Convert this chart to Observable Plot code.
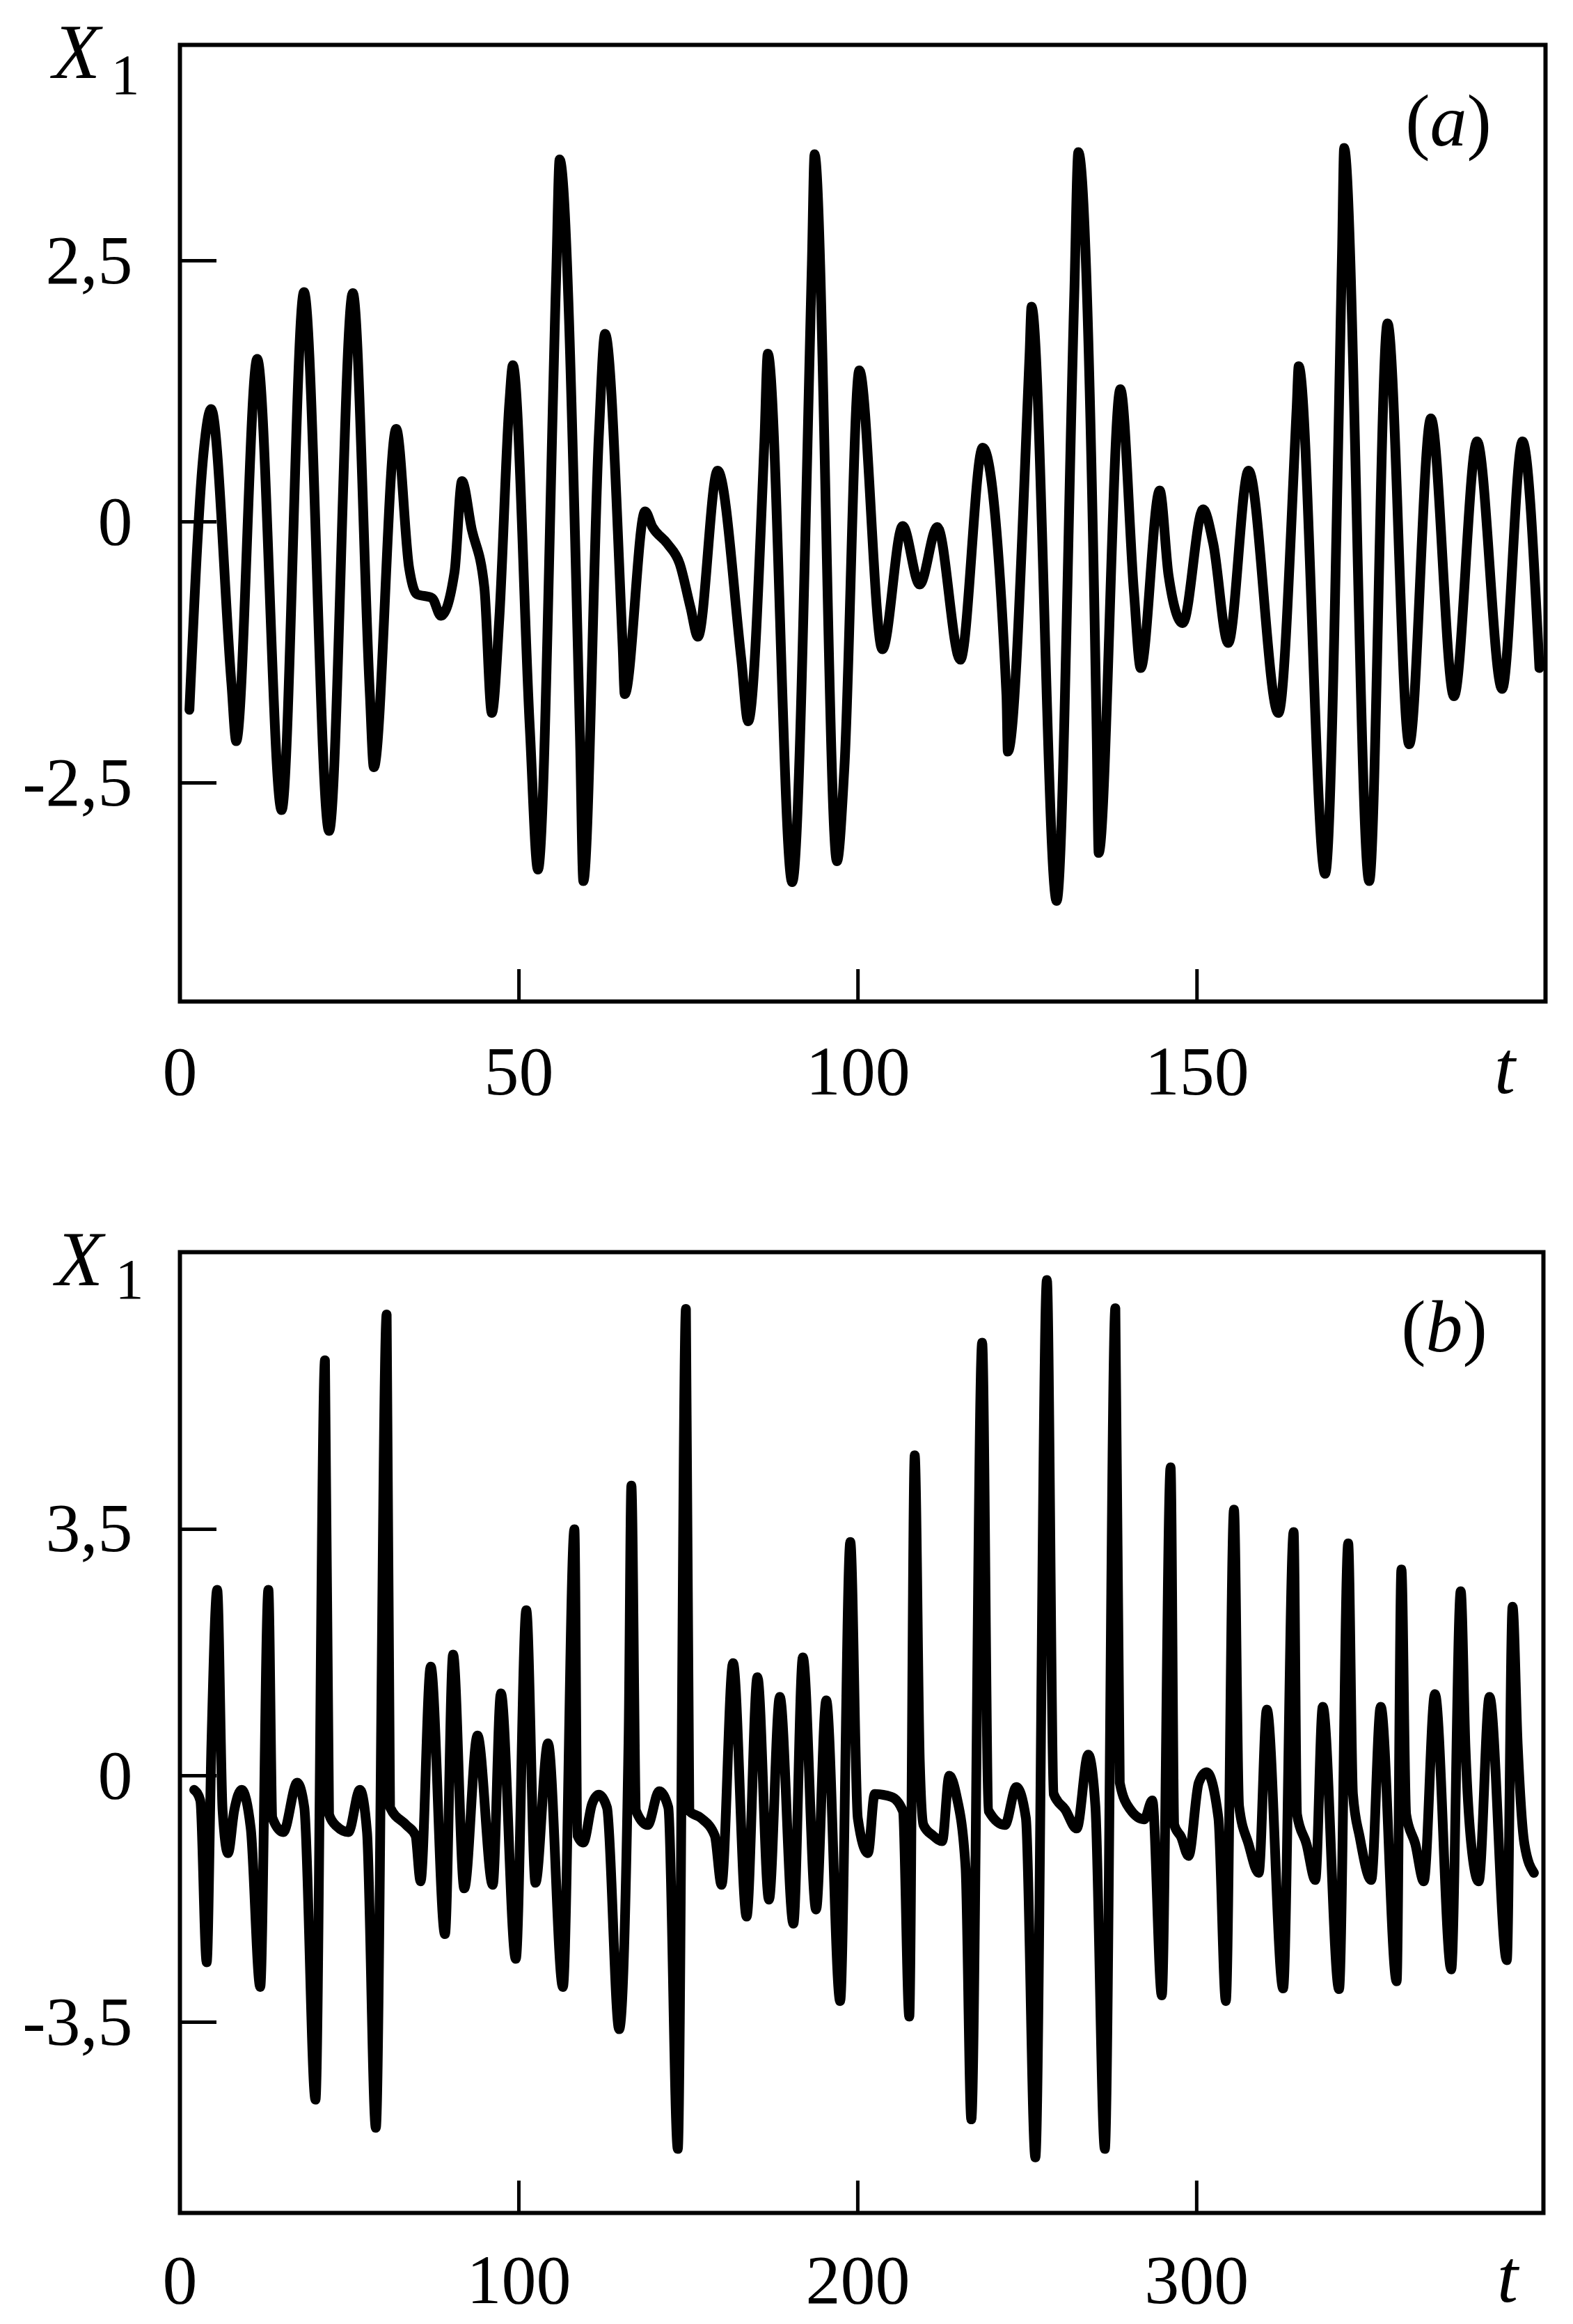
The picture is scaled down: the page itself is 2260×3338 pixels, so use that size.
<!DOCTYPE html>
<html>
<head>
<meta charset="utf-8">
<script src="https://cdn.jsdelivr.net/npm/d3@7"></script>
<script src="https://cdn.jsdelivr.net/npm/@observablehq/plot@0.6"></script>
<style>
  html, body { margin: 0; padding: 0; background: #fff; }
  #chart svg { display: block; }
</style>
</head>
<body>
<div id="chart"></div>
<script>
// ---- Panel (a) data: time t and X1 values ----
const timesA = [1.4,3.5,4.6,7.6,8.3,11.4,15.0,18.3,22.0,25.5,28.0,28.6,31.9,33.8,34.9,37.2,38.5,40.5,41.6,43.0,44.9,46.0,47.1,48.6,49.1,51.6,52.8,55.5,56.0,59.0,59.5,61.8,62.7,65.3,65.6,68.6,69.7,71.9,73.7,75.3,76.4,79.3,82.8,83.8,86.2,86.7,90.3,93.2,93.6,96.9,98.0,100.2,103.6,106.6,109.1,111.7,115.1,118.4,121.9,122.1,125.3,125.6,129.3,131.9,132.5,135.2,135.5,138.7,140.7,141.7,144.5,145.8,147.9,150.9,152.4,154.6,157.6,162.0,164.7,165.0,168.9,171.4,171.7,175.4,178.1,181.3,184.5,187.9,191.3,195.0,198.0,200.5];
const valuesA = [-1.8,0.67,1.08,-1.55,-2.1,1.56,-2.76,2.2,-2.96,2.19,-1.63,-2.35,0.89,-0.44,-0.69,-0.73,-0.9,-0.48,0.39,-0.06,-0.63,-1.83,-0.93,1.15,1.5,-1.97,-3.33,2.37,3.47,-2.05,-3.44,0.85,1.8,-1.2,-1.65,0.1,-0.05,-0.21,-0.4,-0.82,-1.1,0.49,-1.32,-1.91,0.77,1.61,-3.45,2.47,3.52,-3.25,-2.35,1.45,-1.22,-0.04,-0.6,-0.05,-1.32,0.71,-1.66,-2.2,1.59,2.06,-3.63,2.17,3.54,-2.0,-3.17,1.27,-0.67,-1.4,0.3,-0.51,-0.97,0.12,-0.21,-1.16,0.49,-1.83,1.09,1.49,-3.37,2.61,3.58,-3.44,1.9,-2.13,0.99,-1.67,0.77,-1.6,0.77,-1.4];

// ---- Panel (b) data ----
const timesB = [4.2,6.0,7.9,9.3,11.0,12.6,14.2,16.0,18.2,20.9,23.7,26.1,27.3,30.5,34.6,36.7,40.0,42.8,44.0,46.3,49.7,53.1,55.2,57.8,61.0,62.0,66.8,69.5,71.0,74.0,78.2,80.6,83.9,87.8,92.3,94.7,99.1,102.2,104.9,108.6,113.0,116.4,117.3,119.0,121.6,123.6,126.0,129.6,132.4,133.2,134.6,138.0,141.4,144.1,146.9,149.3,150.3,153.7,157.8,159.8,163.2,167.2,170.4,173.8,177.0,181.0,183.8,187.7,190.7,194.8,197.8,200.0,203.0,205.0,209.9,213.3,215.2,216.8,218.3,219.4,222.2,224.9,227.0,229.0,231.8,233.5,236.7,238.6,243.4,246.8,249.6,252.4,255.8,257.8,261.2,264.6,268.0,270.1,272.9,276.0,277.3,280.4,284.5,286.9,289.7,292.3,293.4,295.4,297.6,300.6,302.9,306.4,308.6,311.0,312.5,315.3,318.3,320.7,325.5,328.6,329.6,332.4,335.0,337.2,342.0,344.7,346.1,348.1,351.5,354.3,359.0,360.4,361.8,364.5,367.0,370.3,375.1,377.9,379.3,381.0,383.2,386.4,391.5,393.2,394.7,396.7,399.5];
const valuesB = [-0.2,-0.35,-2.65,0.45,2.64,-0.5,-1.1,-0.5,-0.2,-0.75,-3.0,2.64,-0.6,-0.8,-0.1,-0.45,-4.6,5.9,-0.55,-0.72,-0.8,-0.2,-0.8,-5.0,6.55,-0.45,-0.7,-0.85,-1.5,1.55,-2.25,1.72,-1.6,0.57,-1.55,1.17,-2.6,2.35,-1.52,0.46,-3.0,3.5,-0.85,-0.95,-0.4,-0.27,-0.45,-3.6,0.6,4.12,-0.5,-0.7,-0.22,-0.45,-5.3,6.63,-0.5,-0.6,-0.85,-1.55,1.6,-2.0,1.4,-1.76,1.12,-2.1,1.68,-1.9,1.07,-3.2,3.32,-0.6,-1.1,-0.26,-0.3,-0.5,-3.42,4.55,0.2,-0.7,-0.85,-0.93,0.0,-0.26,-1.3,-4.88,6.15,-0.5,-0.7,-0.16,-0.6,-5.42,7.04,-0.26,-0.48,-0.75,0.3,-0.43,-5.3,6.64,-0.1,-0.48,-0.62,-0.35,-3.12,4.38,-0.7,-0.87,-1.14,-0.1,0.05,-0.6,-3.2,3.78,-0.43,-0.97,-1.38,0.94,-3.02,3.46,-0.55,-0.97,-1.48,0.98,-3.03,3.3,-0.26,-0.87,-1.48,0.98,-2.92,2.93,-0.55,-0.97,-1.5,1.16,-2.75,2.62,0.4,-0.97,-1.5,1.12,-2.62,2.4,0.45,-0.97,-1.38];

// ---- Axis ticks ----
const xTicksA = [0, 50, 100, 150];
const yTicksA = [-2.5, 0, 2.5];
const xTicksB = [0, 100, 200, 300];
const yTicksB = [-3.5, 0, 3.5];

const FONT = "'Liberation Serif', 'Times New Roman', serif";
const comma = d => String(d).replace(".", ",");

function panel(o) {
  const data = o.times.map((t, i) => ({t, v: o.values[i]}));
  const fw = o.W - o.ml - o.mr, fh = o.H - o.mt - o.mb;
  return Plot.plot({
    width: o.W, height: o.H,
    marginTop: o.mt, marginBottom: o.mb, marginLeft: o.ml, marginRight: o.mr,
    style: {fontFamily: FONT, fontSize: "100px", background: "white", color: "black", overflow: "visible"},
    x: {domain: o.xDomain, ticks: o.xTicks, tickSize: 0, tickPadding: o.xPad, tickFormat: comma, label: null},
    y: {domain: o.yDomain, ticks: o.yTicks, tickSize: 0, tickPadding: 68, tickFormat: comma, label: null},
    marks: [
      Plot.line(data, {x: "t", y: "v", curve: "monotone-x", stroke: "black", strokeWidth: o.lw, strokeLinejoin: "round", strokeLinecap: "round"}),
      Plot.frame({stroke: "black", strokeWidth: 6}),
      Plot.tickX(o.xTicks.filter(d => d !== 0), {x: d => d, stroke: "black", strokeWidth: 5, insetTop: fh - 46}),
      Plot.tickY(o.yTicks, {y: d => d, stroke: "black", strokeWidth: 5, insetRight: fw - 53})
    ]
  });
}

function annotate(svg, a) {
  const s = d3.select(svg);
  const g = s.append("g").attr("font-family", FONT).attr("fill", "black");
  g.append("text").attr("x", a.Xx).attr("y", a.Xy).attr("font-size", 112).attr("font-style", "italic").text("X");
  g.append("text").attr("x", a.sx).attr("y", a.sy).attr("font-size", 82).text("1");
  const p = g.append("text").attr("x", a.px).attr("y", a.py).attr("font-size", 106).attr("text-anchor", "middle");
  p.append("tspan").text("(");
  p.append("tspan").attr("font-style", "italic").text(a.letter);
  p.append("tspan").text(")");
  g.append("text").attr("x", a.tx).attr("y", a.ty).attr("font-size", 108).attr("font-style", "italic").attr("text-anchor", "middle").text("t");
}

const chart = document.getElementById("chart");

const svgA = panel({
  times: timesA, values: valuesA,
  W: 2260, H: 1669, mt: 64, mb: 231, ml: 258, mr: 40,
  xDomain: [0, 201.4], yDomain: [-4.593, 4.567],
  xTicks: xTicksA, yTicks: yTicksA, xPad: 62, lw: 14
});
annotate(svgA, {Xx: 110, Xy: 112, sx: 180, sy: 135, px: 2081, py: 209, letter: "a", tx: 2162, ty: 1570});
chart.appendChild(svgA);

const svgB = panel({
  times: timesB, values: valuesB,
  W: 2260, H: 1669, mt: 129, mb: 160, ml: 258, mr: 43,
  xDomain: [0, 402.3], yDomain: [-6.209, 7.435],
  xTicks: xTicksB, yTicks: yTicksB, xPad: 58, lw: 14
});
annotate(svgB, {Xx: 114, Xy: 177, sx: 186, sy: 196, px: 2075, py: 272, letter: "b", tx: 2166, ty: 1637});
chart.appendChild(svgB);
</script>
</body>
</html>
